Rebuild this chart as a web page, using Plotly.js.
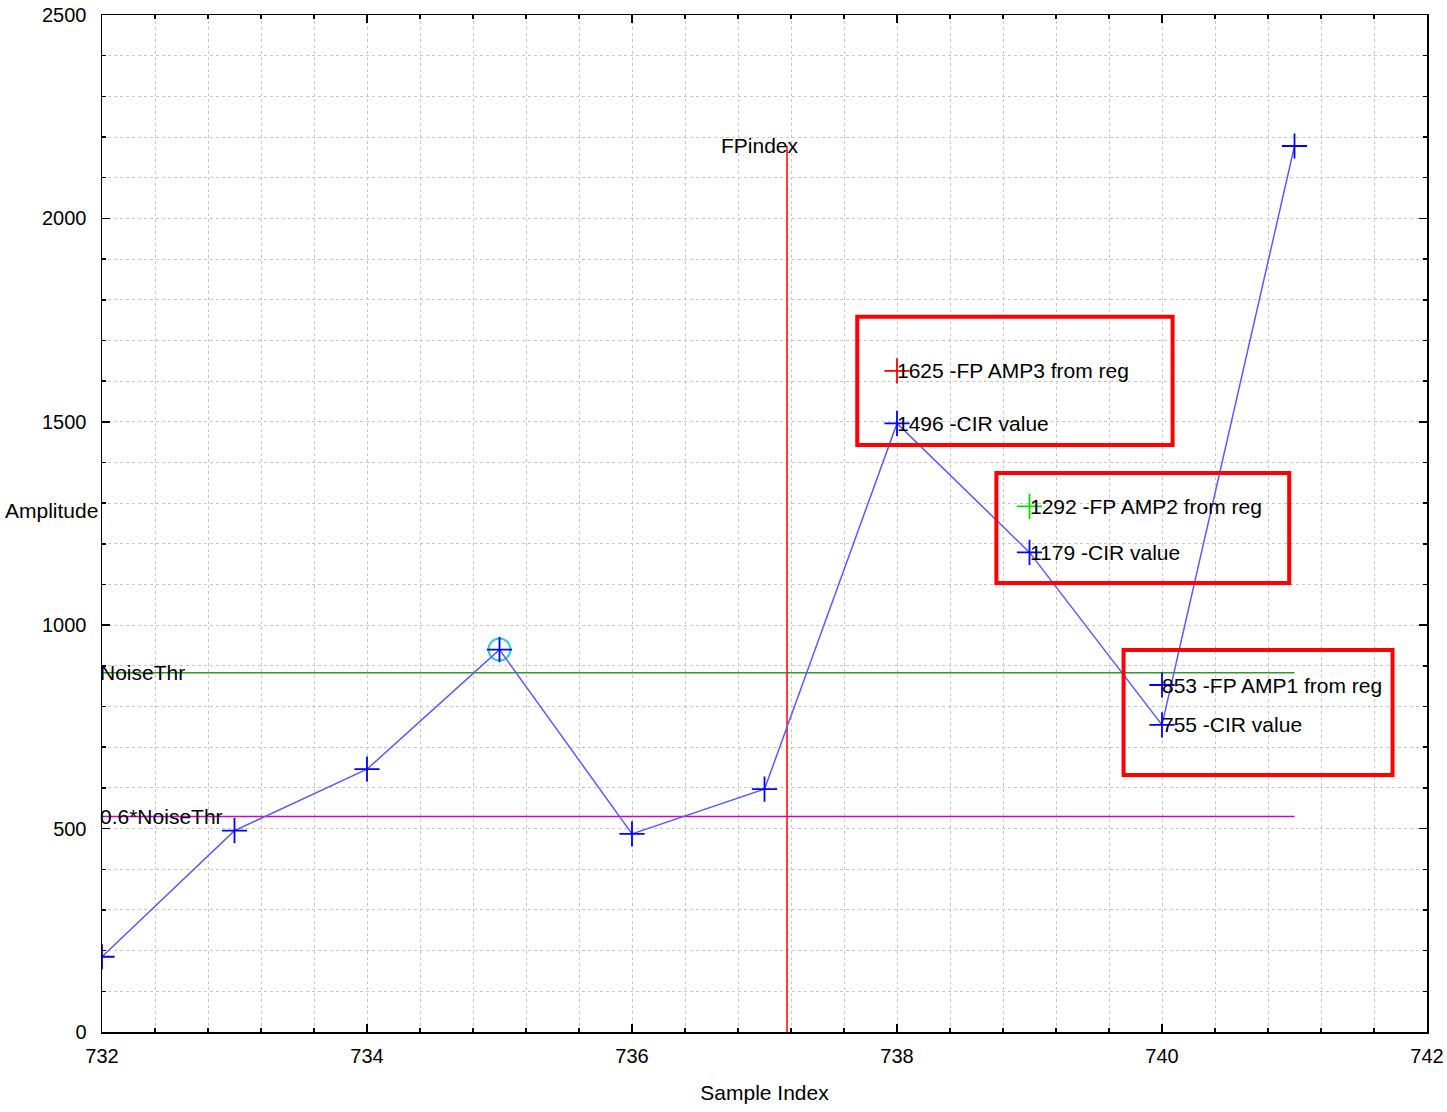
<!DOCTYPE html>
<html>
<head>
<meta charset="utf-8">
<script src="https://cdn.plot.ly/plotly-3.0.1.min.js"></script>
<style>html,body{margin:0;padding:0;background:#fff;}#chart{width:1447px;height:1112px;}</style>
</head>
<body>
<div id="chart"></div>
<script>
// ---- data ----
const sampleIndex = [732, 733, 734, 735, 736, 737, 738, 739, 740, 741];
const cirAmplitude = [185, 495, 646, 940, 487, 597, 1496, 1179, 755, 2178];
const noiseThr = 883;
const noiseFactor = 0.6;
const fpIndex = 737.17;
const peakIndex = 735;
const fpAmpIndex = [738, 739, 740];
const fpAmpValue = [1625, 1292, 853];
const fpAmpNames = ['FP AMP3 from reg', 'FP AMP2 from reg', 'FP AMP1 from reg'];
const fpAmpColors = ['#ff0000', '#00dd00', '#0000ff'];
const boxX0 = [737.70, 738.75, 739.71];
const boxX1 = [740.08, 740.96, 741.74];
const boxY0 = [1443, 1104, 632];
const boxY1 = [1758, 1374, 939];

const FONT = 'Liberation Sans, Arial, sans-serif';
const traces = [];

// thresholds
traces.push({x:[sampleIndex[0], sampleIndex[sampleIndex.length-1]], y:[noiseThr, noiseThr], mode:'lines',
  line:{color:'#2e9a2e', width:1.5}, hoverinfo:'skip'});
traces.push({x:[sampleIndex[0], sampleIndex[sampleIndex.length-1]], y:[noiseThr*noiseFactor, noiseThr*noiseFactor], mode:'lines',
  line:{color:'#cc00cc', width:1.5}, hoverinfo:'skip'});
// FP index line
const maxCir = Math.max(...cirAmplitude);
traces.push({x:[fpIndex, fpIndex], y:[0, maxCir], mode:'lines', line:{color:'#ff0000', width:1.5}, hoverinfo:'skip'});
// peak circle
traces.push({x:[peakIndex], y:[cirAmplitude[sampleIndex.indexOf(peakIndex)]], mode:'markers',
  marker:{symbol:'circle-open', size:22, color:'#33cccc', line:{color:'#33cccc', width:2}}});
// CIR line
traces.push({x:sampleIndex, y:cirAmplitude, mode:'lines', line:{color:'#5a5aff', width:1.5}});
traces.push({x:sampleIndex, y:cirAmplitude, mode:'markers',
  marker:{symbol:'cross-thin-open', size:18, line:{color:'#0000ff', width:1.8}, color:'#0000ff'}});
// FP amp markers
traces.push({x:fpAmpIndex, y:fpAmpValue, mode:'markers',
  marker:{symbol:'cross-thin-open', size:18, line:{color:fpAmpColors, width:1.8}, color:fpAmpColors}});

const annotations = [];
const textFont = {family: FONT, size: 21, color:'#000'};
for (let i = 0; i < fpAmpIndex.length; i++) {
  annotations.push({x:fpAmpIndex[i], y:fpAmpValue[i], text: fpAmpValue[i] + ' -' + fpAmpNames[i],
    showarrow:false, xanchor:'left', yanchor:'middle', xshift:-2, font:textFont});
  const ci = sampleIndex.indexOf(fpAmpIndex[i]);
  annotations.push({x:sampleIndex[ci], y:cirAmplitude[ci], text: cirAmplitude[ci] + ' -CIR value',
    showarrow:false, xanchor:'left', yanchor:'middle', xshift:-2, font:textFont});
}
annotations.push({x:sampleIndex[0], y:noiseThr, text:'NoiseThr', showarrow:false, xanchor:'left', yanchor:'middle', xshift:-4, font:textFont});
annotations.push({x:sampleIndex[0], y:noiseThr*noiseFactor, text:'0.6*NoiseThr', showarrow:false, xanchor:'left', yanchor:'middle', xshift:-4, font:textFont});
annotations.push({x:fpIndex, y:maxCir, text:'FPindex', showarrow:false, xanchor:'center', yanchor:'middle', xshift:-27, font:textFont});
annotations.push({xref:'paper', yref:'paper', x:-0.038, y:0.513, text:'Amplitude', showarrow:false, xanchor:'center', yanchor:'middle', font:textFont});

const shapes = [];
for (let i = 0; i < boxX0.length; i++) {
  shapes.push({type:'rect', xref:'x', yref:'y', x0:boxX0[i], x1:boxX1[i], y0:boxY0[i], y1:boxY1[i],
    line:{color:'#ff0000', width:4}, fillcolor:'rgba(0,0,0,0)'});
}

const axisCommon = {
  showline:true, linecolor:'#000', linewidth:1.5, mirror:'allticks',
  ticks:'inside', ticklen:8, tickcolor:'#000', tickwidth:1.5,
  showgrid:true, gridcolor:'#c8c8c8', griddash:'dot', gridwidth:1,
  zeroline:false, tickfont:{family:FONT, size:20, color:'#000'},
};

const layout = {
  width:1447, height:1112,
  margin:{l:102, r:20, t:15, b:80},
  paper_bgcolor:'#fff', plot_bgcolor:'#fff',
  showlegend:false,
  xaxis: Object.assign({}, axisCommon, {range:[732, 742], dtick:2, tick0:732, ticklabelstandoff:5,
    minor:{dtick:0.4, tick0:732, showgrid:true, gridcolor:'#c8c8c8', griddash:'dot', ticks:'inside', ticklen:4, tickcolor:'#000'},
    title:{text:'Sample Index', font:{family:FONT, size:21, color:'#000'}, standoff:20}}),
  yaxis: Object.assign({}, axisCommon, {range:[0, 2500], dtick:500, tick0:0, ticklabelstandoff:10,
    minor:{dtick:100, showgrid:true, gridcolor:'#c8c8c8', griddash:'dot', ticks:'inside', ticklen:4, tickcolor:'#000'}}),
  annotations: annotations,
  shapes: shapes,
};

Plotly.newPlot('chart', traces, layout, {displayModeBar:false, staticPlot:true});
</script>
</body>
</html>
